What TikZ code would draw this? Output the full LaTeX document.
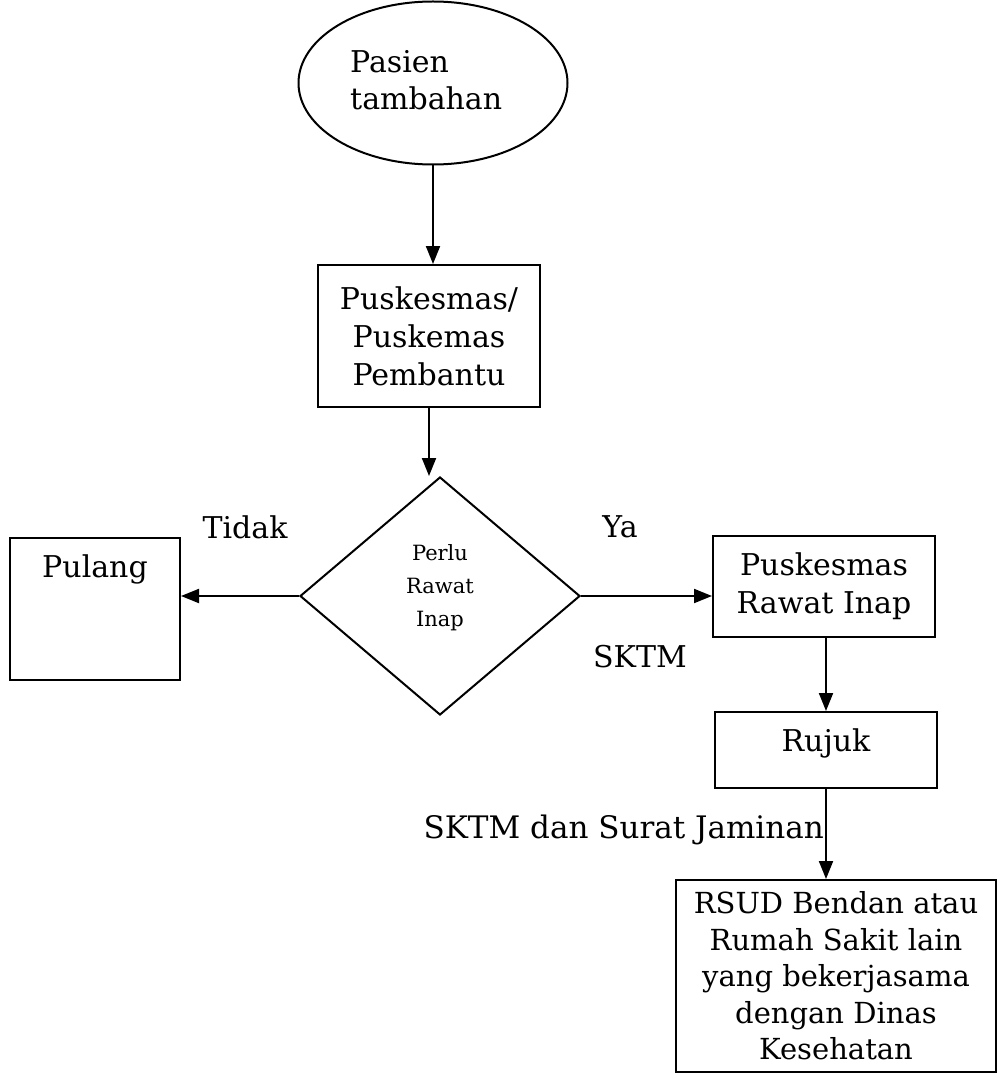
\documentclass[tikz,border=0pt]{standalone}
\usepackage{fontspec}
\setmainfont{DejaVu Serif}
\usetikzlibrary{shapes.geometric,arrows.meta}
\begin{document}
\begin{tikzpicture}[x=1pt,y=-1pt,
  box/.style={draw, line width=2pt, rectangle, inner sep=0pt, align=center, font=\fontsize{30}{38}\selectfont},
  conn/.style={line width=2pt, -{Triangle[length=18pt,width=14pt]}},
  lbl/.style={font=\fontsize{30}{36}\selectfont, inner sep=0pt}]
\fill[white] (0,0) rectangle (996,1075);
\useasboundingbox (0,0) rectangle (996,1075);
% start ellipse
\node[draw, line width=2pt, ellipse, minimum width=269pt, minimum height=163pt, inner sep=0pt] (start) at (433,83) {};
\node[anchor=west, align=left, inner sep=0pt, font=\fontsize{30}{37}\selectfont] (starttext) at (350,80) {Pasien\\tambahan};
% box1
\node[box, minimum width=222pt, minimum height=142pt] (pusk) at (429,336) {Puskesmas/\\Puskemas\\Pembantu};
% diamond
\node[draw, line width=2pt, diamond, minimum width=280pt, minimum height=238pt, inner sep=0pt] (dia) at (440,596) {};
\node[align=center, inner sep=0pt, font=\fontsize{21}{33}\selectfont] (diatext) at (440,588) {Perlu\\Rawat\\Inap};
% Pulang
\node[box, minimum width=170pt, minimum height=142pt, label={[anchor=north, yshift=-14pt, font=\fontsize{30}{36}\selectfont]north:Pulang}] (pulang) at (95,609) {};
% Puskesmas rawat inap
\node[box, minimum width=222pt, minimum height=101pt] (pri) at (824,586) {Puskesmas\\Rawat Inap};
% Rujuk
\node[box, minimum width=222pt, minimum height=76pt, label={[anchor=north, yshift=-14pt, font=\fontsize{30}{36}\selectfont]north:Rujuk}] (rujuk) at (826,750) {};
% RSUD
\node[box, minimum width=320pt, minimum height=192pt, font=\fontsize{29}{36.5}\selectfont] (rsud) at (836,976) {RSUD Bendan atau\\Rumah Sakit lain\\yang bekerjasama\\dengan Dinas\\Kesehatan};
% labels
\node[lbl] (tidak) at (245,527) {Tidak};
\node[lbl] (ya) at (620,527) {Ya};
\node[lbl] (sktm) at (640,657) {SKTM};
\node[lbl, anchor=east, font=\fontsize{31}{36}\selectfont] (sktm2) at (824,830) {SKTM dan Surat Jaminan};
% connectors
\draw[conn] (start.south) -- (start.south |- pusk.north);
\draw[conn] (pusk.south) -- (pusk.south |- dia.north);
\draw[conn] (dia.west) -- (pulang.east |- dia.west);
\draw[conn] (dia.east) -- (pri.west |- dia.east);
\draw[conn] (pri.south -| rujuk.north) -- (rujuk.north);
\draw[conn] (rujuk.south) -- (rujuk.south |- rsud.north);
\end{tikzpicture}
\end{document}
